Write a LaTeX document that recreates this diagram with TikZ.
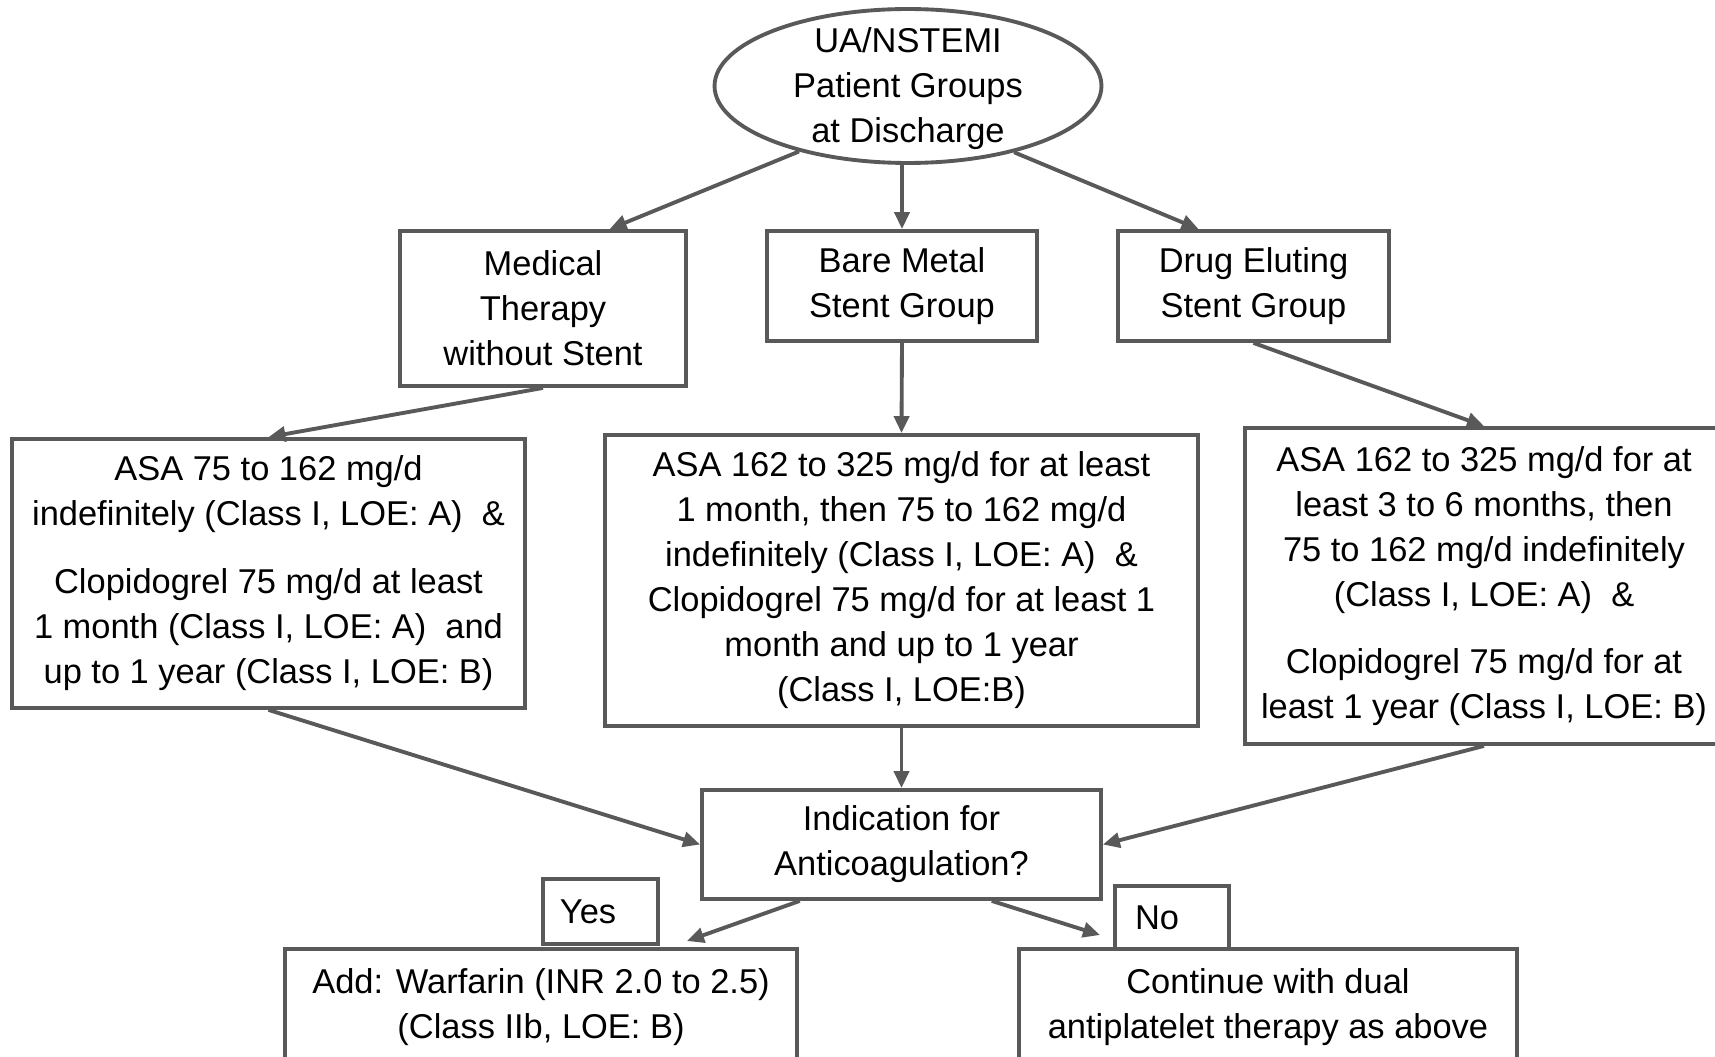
\documentclass[tikz,border=0pt]{standalone}
\usepackage{fontspec}
\setmainfont{Liberation Sans}
\usetikzlibrary{shapes.geometric,arrows.meta}
\definecolor{linegray}{RGB}{89,89,89}

\begin{document}
\begin{tikzpicture}
[x=0.02cm, y=-0.02cm,
  font=\fontsize{19.6}{25.6}\selectfont,
  box/.style={draw=linegray, line width=2.2pt, rectangle, align=center, inner sep=0pt},
  oval/.style={draw=linegray, line width=2.2pt, ellipse, inner sep=0pt},
  link/.style={draw=linegray, line width=2.2pt, -{Triangle[length=0.34cm,width=0.3cm]}}]
  \clip (0,0) rectangle (1715,1057);
  \fill[white] (0,0) rectangle (1715,1057);
  % patient groups
  \node[oval, minimum width=7.74cm, minimum height=3.08cm,
    label={[align=center, yshift=-0.06cm]center:UA/NSTEMI\\Patient Groups\\at Discharge}] (top) at (908,86) {};
  \node[box, minimum width=5.72cm, minimum height=3.10cm] (med) at (543,308.5) {Medical\\Therapy\\without Stent};
  \node[box, minimum width=5.40cm, minimum height=2.20cm] (bms) at (902,286) {Bare Metal\\Stent Group};
  \node[box, minimum width=5.42cm, minimum height=2.20cm] (des) at (1253.5,286) {Drug Eluting\\Stent Group};
  % therapy
  \node[box, minimum width=10.26cm, minimum height=5.38cm] (lasa) at (268.5,573.5)
    {ASA 75 to 162 mg/d\\indefinitely (Class I, LOE: A)\ \ \&\\[0.46cm]
     Clopidogrel 75 mg/d at least\\1 month (Class I, LOE: A)\ \ and\\up to 1 year (Class I, LOE: B)};
  \node[box, minimum width=11.86cm, minimum height=5.82cm] (masa) at (901.5,580.5)
    {ASA 162 to 325 mg/d for at least\\1 month, then 75 to 162 mg/d\\indefinitely (Class I, LOE: A)\ \ \&\\
     Clopidogrel 75 mg/d for at least 1\\month and up to 1 year\\(Class I, LOE:B)};
  \node[box, minimum width=9.56cm, minimum height=6.32cm] (rasa) at (1484,586)
    {ASA 162 to 325 mg/d for at\\least 3 to 6 months, then\\75 to 162 mg/d indefinitely\\(Class I, LOE: A)\ \ \&\\[0.44cm]
     Clopidogrel 75 mg/d for at\\least 1 year (Class I, LOE: B)};
  % anticoagulation
  \node[box, minimum width=7.98cm, minimum height=2.18cm] (ind) at (901.5,844.5) {Indication for\\Anticoagulation?};
  \node[box, minimum width=10.24cm, minimum height=2.32cm] (warf) at (541,1007) {Add: Warfarin (INR 2.0 to 2.5)\\(Class IIb, LOE: B)};
  \node[box, minimum width=9.96cm, minimum height=2.32cm] (cont) at (1268,1007) {Continue with dual\\antiplatelet therapy as above};
  \node[box, minimum width=2.30cm, minimum height=1.30cm] (yes) at (600.5,911.5) {Yes\hspace*{0.5cm}};
  \node[box, minimum width=2.28cm, minimum height=1.26cm] (no) at (1172,917.5) {No\hspace*{0.6cm}};
  \coordinate (yesend) at (687,941);
  \coordinate (noend) at (1100,935);

  \draw[link] (top.211) -- (med.50);
  \draw[link] (bms.north |- top.south) -- (bms.north);
  \draw[link] (top.328) -- (des.134);
  \draw[link] (med.south) -- (lasa.north);
  \draw[link] (bms.south) -- (masa.north);
  \draw[link] (des.south) -- (rasa.north);
  \draw[link] (lasa.south) -- (ind.west);
  \draw[link] (masa.south) -- (ind.north);
  \draw[link] (rasa.south) -- (ind.east);
  \draw[link] (ind.209) -- (yesend);
  \draw[link] (ind.328) -- (noend);
\end{tikzpicture}
\end{document}
